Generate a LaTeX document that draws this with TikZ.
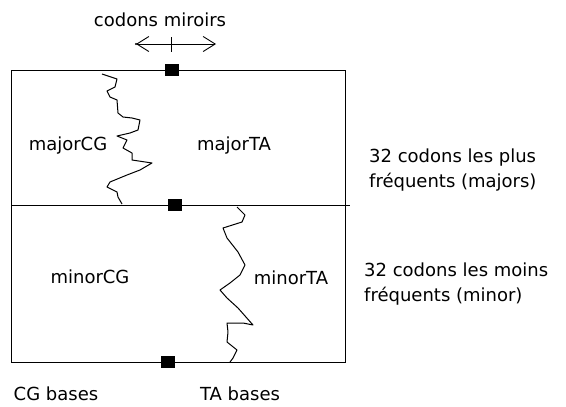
\documentclass[tikz,border=0pt]{standalone}
\usepackage{fontspec}
\setmainfont{DejaVu Sans}
\usepackage{tikz}
\usetikzlibrary{arrows.meta,positioning}
\tikzset{
  frame/.style={draw=black, line width=0.9pt},
  marker/.style={
    rectangle,
    fill=black,
    minimum width=14pt,
    minimum height=12pt,
    inner sep=0pt
  },
  wiggle/.style={draw=black, line width=1pt, line join=round},
  label text/.style={
    font=\fontsize{18}{25}\selectfont,
    inner sep=0pt
  },
  side text/.style={label text, align=left, anchor=west},
  mirror/.style={
    {Straight Barb[length=12pt,width=15pt,line width=0.9pt]}-{Straight Barb[length=12pt,width=15pt,line width=0.9pt]},
    line width=0.8pt
  }
}
\begin{document}
\begin{tikzpicture}[x=1pt, y=-1pt]
\useasboundingbox (0,0) rectangle (566,407);

% Frame of the codon table.
\coordinate (tl) at (11,70);
\coordinate (tr) at (345,70);
\coordinate (bl) at (11,362);
\coordinate (br) at (345,362);
\coordinate (ml) at (11,205);
\coordinate (mr) at (350,205);
\draw[frame] (tl) -- (tr) -- (br) -- (bl) -- cycle;
\draw[frame] (ml) -- (mr);

% Markers on the horizontal lines.
\node[marker] (topmark) at (172,70) {};
\node[marker] (midmark) at (175,205) {};
\node[marker] (botmark) at (168,362) {};

% Mirror arrow above the table.
\node[label text] (miroirs) at (160,20) {codons miroirs};
\coordinate (arrowleft) at (136,44);
\coordinate (arrowright) at (216,44);
\draw[mirror] (arrowleft) -- (arrowright);
\fill (arrowleft) circle (1.2pt);
\coordinate (ticktop) at (171,37);
\coordinate (tickbot) at (171,52);
\draw[line width=0.8pt] (ticktop) -- (tickbot);

% Border between majorCG and majorTA.
\draw[wiggle] (102,74) -- (117,79) -- (115,87) -- (107,91) -- (110,97)
  -- (117,100) -- (118,113) -- (123,117) -- (132,118) -- (140,120)
  -- (138,130) -- (130,133) -- (117,136) -- (127,140) -- (123,148)
  -- (132,153) -- (132,160) -- (152,163) -- (140,170) -- (127,175)
  -- (110,182) -- (107,187) -- (117,192) -- (118,197) -- (122,204);

% Border between minorCG and minorTA.
\draw[wiggle] (237,207) -- (245,215) -- (242,222) -- (223,228) -- (227,238)
  -- (238,252) -- (245,265) -- (240,275) -- (230,283) -- (220,290)
  -- (227,298) -- (238,308) -- (253,325) -- (243,323) -- (227,323)
  -- (228,332) -- (227,342) -- (237,350) -- (233,358) -- (230,362);

% Region names.
\node[label text] (majorcg) at (68,146) {majorCG};
\node[label text] (majorta) at (234,146) {majorTA};
\node[label text] (minorcg) at (90,277) {minorCG};
\node[label text] (minorta) at (291,278) {minorTA};

% Base names under the table.
\node[label text] (cgbases) at (56,394) {CG bases};
\node[label text] (tabases) at (240,394) {TA bases};

% Row descriptions.
\node[side text] (majors) at (369,170) {32 codons les plus\\fréquents (majors)};
\node[side text] (minors) at (364,284) {32 codons les moins\\fréquents (minor)};

\end{tikzpicture}
\end{document}
